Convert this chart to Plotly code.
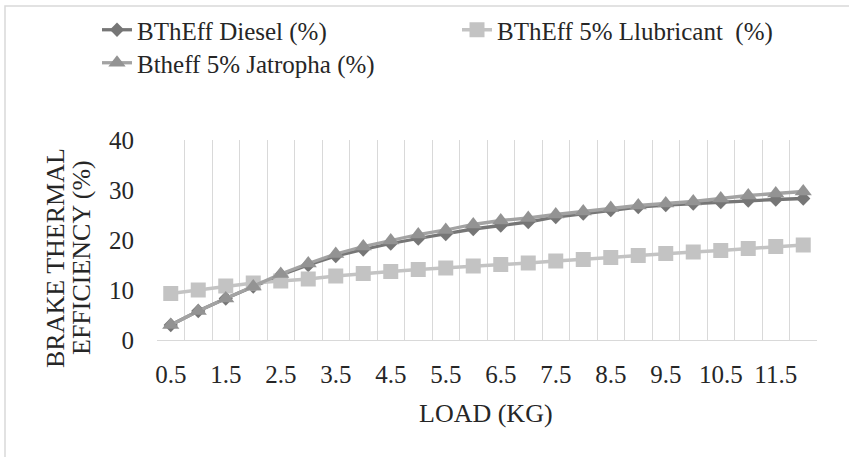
import plotly.graph_objects as go

loads = ["0.5", "1", "1.5", "2", "2.5", "3", "3.5", "4", "4.5", "5", "5.5", "6",
         "6.5", "7", "7.5", "8", "8.5", "9", "9.5", "10", "10.5", "11", "11.5", "12"]
tick_labels = [c if c.endswith(".5") else "" for c in loads]
series_names = ["BThEff Diesel (%)", "BThEff 5% Llubricant &nbsp;(%)", "Btheff 5% Jatropha (%)"]

diesel = [3.0, 5.8, 8.3, 10.7, 13.0, 15.0, 16.8, 18.1, 19.3, 20.3, 21.2, 22.2,
          22.9, 23.6, 24.6, 25.3, 26.0, 26.6, 27.0, 27.3, 27.6, 27.9, 28.1, 28.3]
lubricant = [9.3, 10.0, 10.8, 11.4, 11.8, 12.2, 12.8, 13.3, 13.7, 14.1, 14.4, 14.8,
             15.1, 15.4, 15.8, 16.1, 16.5, 16.9, 17.3, 17.6, 17.9, 18.3, 18.7, 19.0]
jatropha = [3.0, 5.8, 8.3, 10.7, 13.2, 15.3, 17.2, 18.7, 19.9, 21.1, 22.0, 23.1,
            23.9, 24.4, 25.1, 25.7, 26.4, 26.9, 27.3, 27.7, 28.3, 28.9, 29.3, 29.7]

FONT = "Liberation Serif"
W, H = 849, 457
L, R, T, B = 157, 32, 140, 117
PW, PH = W - L - R, H - T - B

fig = go.Figure()
fig.add_trace(go.Scatter(
    x=loads, y=diesel, name=series_names[0], mode="lines+markers",
    line=dict(color="#767676", width=3.3),
    marker=dict(symbol="diamond", size=11, color="#767676"),
    legend="legend"))
fig.add_trace(go.Scatter(
    x=loads, y=lubricant, name=series_names[1], mode="lines+markers",
    line=dict(color="#c3c3c3", width=3.5),
    marker=dict(symbol="square", size=15, color="#c3c3c3"),
    legend="legend2"))
fig.add_trace(go.Scatter(
    x=loads, y=jatropha, name=series_names[2], mode="lines+markers",
    line=dict(color="#a3a3a3", width=3.3),
    marker=dict(symbol="triangle-up", size=15, color="#939393"),
    legend="legend3"))


def leg(x, y):
    return dict(font=dict(family=FONT, size=25, color="#262626"),
                bgcolor="rgba(0,0,0,0)", xanchor="left", yanchor="middle",
                xref="container", yref="container", x=x / W, y=1 - y / H,
                visible=True)


fig.update_layout(
    width=W, height=H, showlegend=True,
    margin=dict(l=L, r=R, t=T, b=B, autoexpand=False),
    paper_bgcolor="white", plot_bgcolor="white",
    font=dict(family=FONT, size=25, color="#262626"),
    legend=leg(97, 30),
    legend2=leg(457, 30),
    legend3=leg(97, 63),
    xaxis=dict(
        type="category", tickmode="array", tickvals=loads, ticktext=tick_labels,
        range=[-0.5, len(loads) - 0.5], tickangle=0,
        tickson="boundaries", showgrid=True, gridcolor="#d9d9d9", gridwidth=1,
        showline=True, linecolor="#d9d9d9", linewidth=1, ticks="",
        tickfont=dict(family=FONT, size=25, color="#262626"),
        ticklabelstandoff=12, zeroline=False, automargin=False),
    yaxis=dict(
        range=[0, 40], dtick=10, showgrid=False, zeroline=False, showline=False,
        ticks="", tickfont=dict(family=FONT, size=25, color="#262626"),
        ticklabelstandoff=22, automargin=False),
    annotations=[
        dict(text="LOAD (KG)", xref="paper", yref="paper",
             x=(486 - L) / PW, y=(340 - 413) / PH, xanchor="center", yanchor="middle",
             showarrow=False, font=dict(family=FONT, size=26, color="#262626")),
        dict(text="BRAKE THERMAL", xref="paper", yref="paper", textangle=-90,
             x=(55 - L) / PW, y=(340 - 258) / PH, xanchor="center", yanchor="middle",
             showarrow=False, font=dict(family=FONT, size=26, color="#262626")),
        dict(text="EFFICIENCY (%)", xref="paper", yref="paper", textangle=-90,
             x=(81 - L) / PW, y=(340 - 258) / PH, xanchor="center", yanchor="middle",
             showarrow=False, font=dict(family=FONT, size=26, color="#262626")),
    ],
    shapes=[
        dict(type="rect", xref="paper", yref="paper",
             x0=(5 - L) / PW, x1=(900 - L) / PW,
             y0=(340 - 500) / PH, y1=(340 - 6) / PH,
             line=dict(color="#d9d9d9", width=1.5), fillcolor="rgba(0,0,0,0)", layer="below"),
    ],
)

fig.write_html("out.html")
